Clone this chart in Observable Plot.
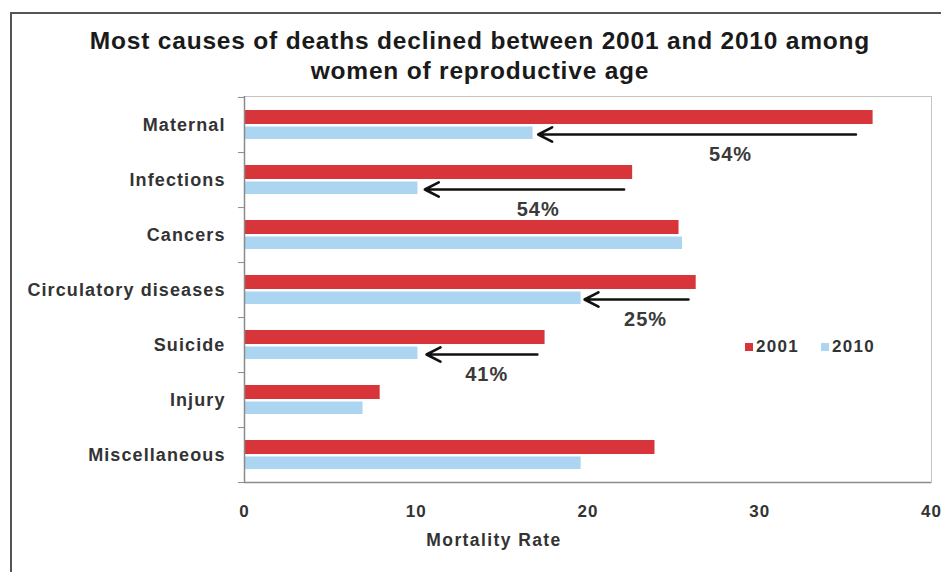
<!DOCTYPE html>
<html>
<head>
<meta charset="utf-8">
<script src="https://cdn.jsdelivr.net/npm/d3@7"></script>
<script src="https://cdn.jsdelivr.net/npm/@observablehq/plot@0.6"></script>
<style>
  html, body { margin: 0; padding: 0; background: #fff; }
  #wrap { position: relative; width: 941px; height: 572px; overflow: hidden; font-family: "Liberation Sans", Arial, sans-serif; }
  #frame { position: absolute; left: 10px; top: 12px; width: 960px; height: 600px; border-left: 2px solid #555; border-top: 2px solid #555; box-sizing: border-box; }
  #title { position: absolute; left: 0; top: 26px; width: 960px; text-align: center; font-weight: bold; font-size: 24.5px; line-height: 30px; color: #1a1a1a; letter-spacing: 0.8px; }
  #legend { position: absolute; left: 745px; top: 337px; font-weight: bold; font-size: 17px; letter-spacing: 1.3px; color: #333; display: flex; align-items: center; }
  #legend span.sw { display: inline-block; width: 8px; height: 8px; margin-right: 3px; }
  #chart { position: absolute; left: 0; top: 0; }
  #chart svg [aria-label="y-axis tick label"] text { letter-spacing: 1.1px; }
  #chart svg [aria-label="x-axis tick label"] text { letter-spacing: 1px; }
  #chart svg .xtitle text { letter-spacing: 1.4px; }
  #chart svg .pct text { letter-spacing: 1px; }
</style>
</head>
<body>
<div id="wrap">
  <div id="frame"></div>
  <div id="title"></div>
  <div id="chart"></div>
  <div id="legend"></div>
</div>
<script>
const titleLines = ["Most causes of deaths declined between 2001 and 2010 among", "women of reproductive age"];
const categories = ["Maternal", "Infections", "Cancers", "Circulatory diseases", "Suicide", "Injury", "Miscellaneous"];
const rate2001 = [36.6, 22.6, 25.3, 26.3, 17.5, 7.9, 23.9];
const rate2010 = [16.8, 10.1, 25.5, 19.6, 10.1, 6.9, 19.6];
const seriesNames = ["2001", "2010"];
const xTicks = [0, 10, 20, 30, 40];
const xTitle = "Mortality Rate";
const arrowCats = ["Maternal", "Infections", "Circulatory diseases", "Suicide"];
const arrowFrom = [35.6, 22.1, 25.85, 17.05];
const arrowTo = [17.1, 10.5, 19.8, 10.6];
const declineLabels = ["54%", "54%", "25%", "41%"];
const labelX = [28.3, 17.1, 23.35, 14.1];

const RED = "#d7353a", BLUE = "#acd5f1";
const halfStep = (482 - 96) / categories.length / 2;

document.getElementById("title").innerHTML = titleLines.join("<br>");
document.getElementById("legend").innerHTML =
  `<span class="sw" style="background:${RED}"></span><span>${seriesNames[0]}</span>` +
  `<span style="width:22px;display:inline-block"></span>` +
  `<span class="sw" style="background:${BLUE}"></span><span>${seriesNames[1]}</span>`;

const data = categories.map((c, i) => ({cat: c, v2001: rate2001[i], v2010: rate2010[i]}));
const arrows = arrowCats.map((c, i) => ({cat: c, from: arrowFrom[i], to: arrowTo[i], label: declineLabels[i], lx: labelX[i]}));

const chart = Plot.plot({
  width: 941,
  height: 572,
  marginLeft: 244,
  marginRight: 10,
  marginTop: 96,
  marginBottom: 90,
  style: {fontFamily: "'Liberation Sans', Arial, sans-serif", background: "transparent", color: "#333"},
  x: {domain: [0, 40]},
  y: {domain: categories, padding: 0},
  marks: [
    Plot.frame({stroke: "#c4c4c4"}),
    Plot.barX(data, {y: "cat", x: "v2001", fill: RED, insetTop: 13, insetBottom: 28}),
    Plot.barX(data, {y: "cat", x: "v2010", fill: BLUE, insetTop: 29.5, insetBottom: 13}),
    Plot.ruleX([0], {stroke: "#8a8a8a", strokeWidth: 1.5}),
    Plot.ruleY(categories, {y: d => d, x1: -0.35, x2: 0, dy: halfStep, stroke: "#8a8a8a"}),
    Plot.ruleY([categories[0]], {y: d => d, x1: -0.35, x2: 0, dy: -halfStep, stroke: "#8a8a8a"}),
    Plot.ruleY([categories[categories.length - 1]], {y: d => d, x1: 0, x2: 40, dy: halfStep, stroke: "#8a8a8a", strokeWidth: 1.5}),
    Plot.ruleX(xTicks.slice(1), {x: d => d, y: () => categories[categories.length - 1], insetTop: 50, stroke: "#aaa"}),
    Plot.axisX({ticks: xTicks, tickSize: 0, tickPadding: 22, fontSize: 17, fontWeight: "bold", label: null}),
    Plot.axisY({tickSize: 0, tickPadding: 19, fontSize: 18, fontWeight: "bold", label: null}),
    Plot.text([xTitle], {frameAnchor: "bottom", dx: -94, dy: 63, fontSize: 17.5, fontWeight: "bold", fill: "#333", className: "xtitle"}),
    Plot.arrow(arrows, {x1: "from", x2: "to", y1: "cat", y2: "cat", dy: 9.5, stroke: "#111", strokeWidth: 2.6, headLength: 9, headAngle: 54}),
    Plot.text(arrows, {x: "lx", y: "cat", text: "label", dy: 29.5, fontSize: 20, fontWeight: "bold", fill: "#3a3a3a", className: "pct"})
  ]
});
document.getElementById("chart").appendChild(chart);
</script>
</body>
</html>
